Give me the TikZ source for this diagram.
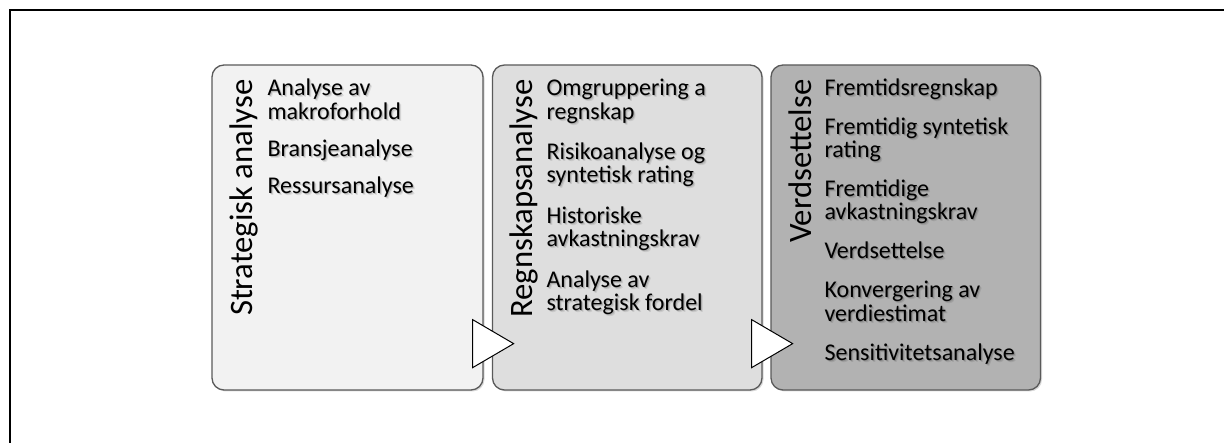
\documentclass[tikz,border=0pt]{standalone}
\usepackage{fontspec}
\setmainfont{Carlito}
\usetikzlibrary{calc,shadows}

\definecolor{boxone}{HTML}{F2F2F2}
\definecolor{boxtwo}{HTML}{DEDEDE}
\definecolor{boxthree}{HTML}{B2B2B2}
\definecolor{rim}{HTML}{5A5A5A}

\tikzset{
  phase/.style={draw=rim, line width=1.3pt, rounded corners=12pt,
    minimum height=325pt, inner sep=0pt,
    drop shadow={shadow xshift=1.5pt, shadow yshift=-1.5pt, opacity=0.3}},
  title/.style={rotate=90, anchor=base east, inner sep=0pt,
    font=\fontsize{32.7}{36}\selectfont},
  itemline/.style={anchor=base west, inner sep=0pt,
    font=\fontsize{24}{28}\selectfont},
  itemshade/.style={itemline, text=black, text opacity=#1},
  flow/.style={draw=black, fill=white, line width=1pt, line join=miter},
  frame/.style={line width=2.6pt}
}

% one line of an item list, with its soft shadow:
% #1 phase box, #2 indent, #3 depth of the baseline below the box top, #4 node name, #5 text
\newcommand\listline[5]{%
  \node[itemshade=0.18] at ($(#1.north west)+(#2+1,-#3-1)$) {#5};
  \node[itemshade=0.09] at ($(#1.north west)+(#2+2,-#3-2)$) {#5};
  \node[itemline] (#4) at ($(#1.north west)+(#2,-#3)$) {#5};
}

\begin{document}
\begin{tikzpicture}[x=1pt, y=1pt]
\useasboundingbox (0,0) rectangle (1224,443);

% outer frame (only its top and left sides fall on the page)
\draw[frame] (10,0) -- (10,433) -- (1224,433);

% the three phase boxes
\node[phase, fill=boxone,   minimum width=271pt]   (p1) at (347.5,215.5) {};
\node[phase, fill=boxtwo,   minimum width=269.5pt] (p2) at (627.25,215.5) {};
\node[phase, fill=boxthree, minimum width=269.5pt] (p3) at (905.75,215.5) {};

% chevrons leading from one phase to the next
\draw[flow] ($(p1.south east)+(-11,71)$) -- ($(p1.south east)+(30,47)$)
            -- ($(p1.south east)+(-11,23)$) -- cycle;
\draw[flow] ($(p2.south east)+(-11,71)$) -- ($(p2.south east)+(30,47)$)
            -- ($(p2.south east)+(-11,23)$) -- cycle;

% rotated phase titles
\node[title] (t1) at ($(p1.north west)+(41,-15)$) {Strategisk analyse};
\node[title] (t2) at ($(p2.north west)+(41,-15)$) {Regnskapsanalyse};
\node[title] (t3) at ($(p3.north west)+(41,-15)$) {Verdsettelse};

% items of the first phase
\listline{p1}{56}{31.5}{a1}{Analyse av}
\listline{p1}{56}{55}{a2}{makroforhold}
\listline{p1}{56}{92.5}{a3}{Bransjeanalyse}
\listline{p1}{56}{129.5}{a4}{Ressursanalyse}

% items of the second phase
\listline{p2}{54.5}{31.5}{b1}{Omgruppering a}
\listline{p2}{54.5}{54.8}{b2}{regnskap}
\listline{p2}{54.5}{95.3}{b3}{Risikoanalyse og}
\listline{p2}{54.5}{118.6}{b4}{syntetisk rating}
\listline{p2}{54.5}{159.1}{b5}{Historiske}
\listline{p2}{54.5}{182.4}{b6}{avkastningskrav}
\listline{p2}{54.5}{222.9}{b7}{Analyse av}
\listline{p2}{54.5}{246.2}{b8}{strategisk fordel}

% items of the third phase
\listline{p3}{54}{31}{c1}{Fremtidsregnskap}
\listline{p3}{54}{70}{c2}{Fremtidig syntetisk}
\listline{p3}{54}{93.3}{c3}{rating}
\listline{p3}{54}{132.3}{c4}{Fremtidige}
\listline{p3}{54}{155.6}{c5}{avkastningskrav}
\listline{p3}{54}{194.6}{c6}{Verdsettelse}
\listline{p3}{54}{233.6}{c7}{Konvergering av}
\listline{p3}{54}{256.9}{c8}{verdiestimat}
\listline{p3}{54}{295.9}{c9}{Sensitivitetsanalyse}
\end{tikzpicture}
\end{document}
